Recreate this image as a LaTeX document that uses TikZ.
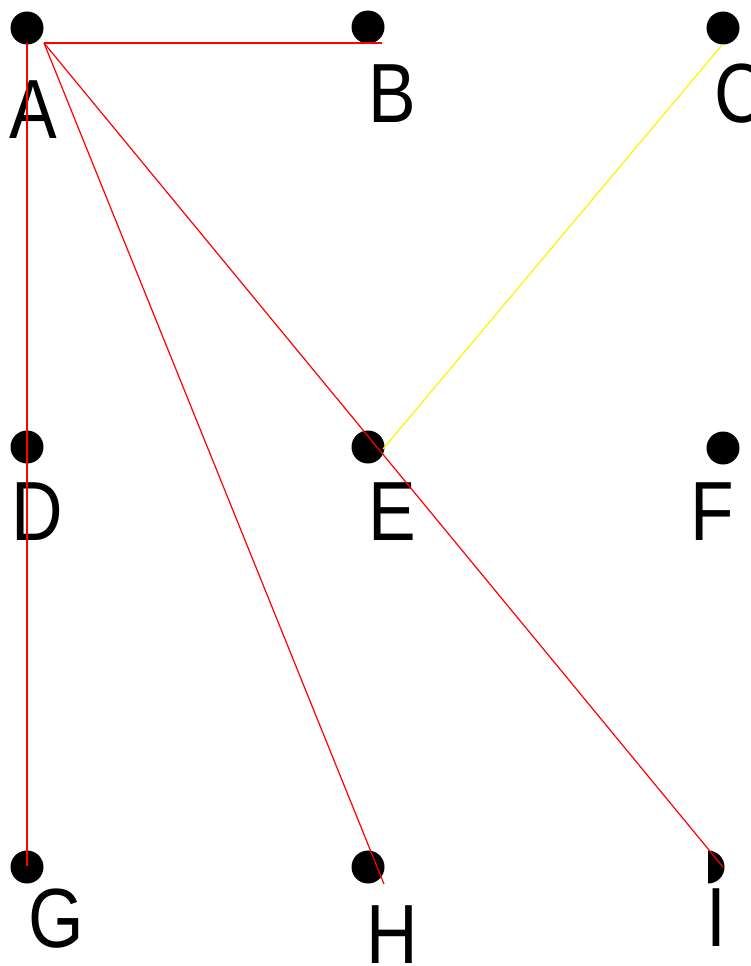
\documentclass[tikz,border=0pt]{standalone}
\usepackage{fontspec}
\setmainfont[FakeStretch=0.85]{Liberation Sans}
\begin{document}
\begin{tikzpicture}[x=1pt,y=-1pt,
  dot/.style={circle,fill=black,inner sep=0pt,minimum size=33pt},
  lbl/.style={font=\fontsize{84}{84}\selectfont,inner sep=0pt,anchor=center},
  redge/.style={draw=red,line width=1.2pt},
  yedge/.style={draw=yellow,line width=1.2pt}]
\useasboundingbox (0,0) rectangle (750,966);
% dots
\node[dot] (A) at (27,28) {};
\node[dot] (B) at (368,27) {};
\node[dot] (C) at (723,28) {};
\node[dot] (D) at (27,447) {};
\node[dot] (E) at (368,447) {};
\node[dot] (F) at (723,448) {};
\node[dot] (G) at (27,867) {};
\node[dot] (H) at (368,867) {};
\begin{scope}
  \clip (708,830) rectangle (745,905);
  \node[dot] (I) at (708,867) {};
\end{scope}
% labels
\node[lbl] (lA) at (33,110) {A};
\node[lbl] (lB) at (392,94) {B};
\node[lbl] (lC) at (740,94) {C};
\node[lbl] (lD) at (37,512) {D};
\node[lbl] (lE) at (392,512) {E};
\node[lbl] (lF) at (712,512) {F};
\node[lbl] (lG) at (56,919) {G};
\node[lbl] (lH) at (392,935) {H};
\node[lbl] (lI) at (716,918) {I};
% connector end points
\coordinate (a0) at (44,43);
\coordinate (a1) at (27,43);
\coordinate (bE) at (382,43);
\coordinate (gE) at (27,866);
\coordinate (hE) at (384,884);
\coordinate (iE) at (723,867);
\coordinate (cE) at (722,45);
\coordinate (eE) at (383,449);
% connectors
\draw[redge] (a0) -- (bE);
\draw[redge] (a1) -- (gE);
\draw[redge] (a0) -- (hE);
\draw[redge] (a0) -- (iE);
\draw[yedge] (cE) -- (eE);
\end{tikzpicture}
\end{document}
